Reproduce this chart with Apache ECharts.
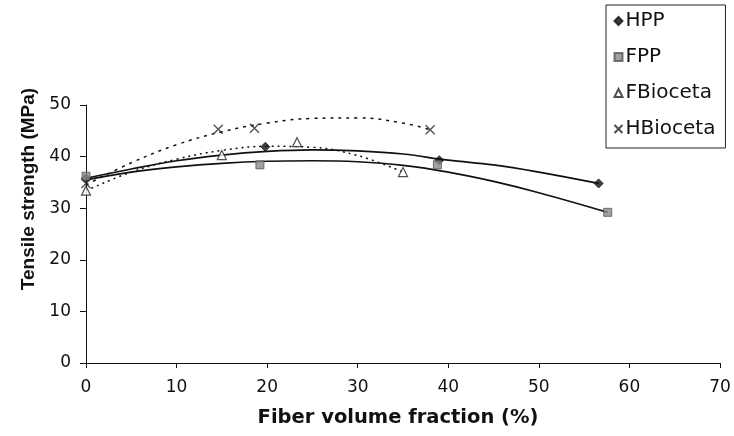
<!DOCTYPE html>
<html>
<head>
<meta charset="utf-8">
<script src="https://cdn.jsdelivr.net/npm/echarts@6/dist/echarts.min.js"></script>
<style>
html,body{margin:0;padding:0;background:#fff;}
#chart{width:734px;height:436px;}
</style>
</head>
<body>
<div id="chart"></div>
<script>
// ---- data ----
var seriesNames = ['HPP', 'FPP', 'FBioceta', 'HBioceta'];
var xTicks = [0, 10, 20, 30, 40, 50, 60, 70];
var yTicks = [0, 10, 20, 30, 40, 50];

// measured points [fiber volume fraction %, tensile strength MPa]
var hppPoints = [[0, 35.8], [19.8, 41.9], [39.0, 39.3], [56.6, 34.8]];
var fppPoints = [[0, 36.2], [19.2, 38.4], [38.8, 38.4], [57.6, 29.2]];
var fbioPoints = [[0, 33.4], [15.0, 40.3], [23.3, 42.8], [35.0, 37.0]];
var hbioPoints = [[0, 34.8], [14.6, 45.3], [18.6, 45.5], [38.0, 45.2]];

// trend curves
var hppTrend = [[0, 35.8], [5, 37.6], [10, 39.2], [15, 40.3], [20, 41.0], [25, 41.3], [30, 41.1], [35, 40.5], [40, 39.3], [45, 38.4], [50, 37.0], [56.6, 34.8]];
var fppTrend = [[0, 35.5], [5, 37.0], [10, 38.0], [15, 38.7], [20, 39.1], [25, 39.2], [30, 39.0], [35, 38.3], [40, 37.0], [45, 35.2], [50, 33.0], [57.6, 29.2]];
var fbioTrend = [[0, 33.4], [5, 37.0], [10, 39.5], [15, 41.2], [20, 42.0], [25, 41.8], [30, 40.2], [35, 37.0]];
var hbioTrend = [[0, 34.5], [5, 38.8], [10, 42.3], [15, 44.8], [20, 46.5], [25, 47.4], [30, 47.5], [35, 46.5], [38, 45.2]];

var FONT = "'Liberation Sans', Arial, sans-serif";
var WIDE = "'DejaVu Sans', 'Liberation Sans', sans-serif";
var chart = echarts.init(document.getElementById('chart'), null, {renderer: 'canvas'});

function trend(name, data, type, dash) {
  return {
    name: name, type: 'line', data: data, smooth: 0.4, showSymbol: false, silent: true,
    lineStyle: {color: '#111', width: type === 'solid' ? 1.7 : 1.5, type: type === 'solid' ? 'solid' : dash},
    z: 2
  };
}

var option = {
  animation: false,
  backgroundColor: '#fff',
  grid: {left: 86, right: 14, top: 105, bottom: 73, containLabel: false},
  legend: {
    data: seriesNames,
    orient: 'vertical',
    left: 606, top: 5,
    padding: [6, 10, 9, 6],
    itemGap: 16,
    itemWidth: 8, itemHeight: 8,
    borderColor: '#222', borderWidth: 1,
    backgroundColor: '#fff',
    textStyle: {fontFamily: WIDE, fontSize: 20, color: '#111', padding: [0, 0, 0, -2]}
  },
  xAxis: {
    type: 'value', min: 0, max: 70, interval: 10,
    name: 'Fiber volume fraction (%)', nameLocation: 'middle', nameGap: 45,
    nameTextStyle: {fontFamily: WIDE, fontSize: 19.5, fontWeight: 'bold', color: '#111', padding: [0, 10, 0, 0]},
    axisLine: {show: true, lineStyle: {color: '#111', width: 1}},
    axisTick: {show: true, inside: false, length: 5, lineStyle: {color: '#111'}},
    axisLabel: {fontFamily: WIDE, fontSize: 17, color: '#111', margin: 16,
      formatter: function (v) { return xTicks.indexOf(v) >= 0 ? String(v) : ''; }},
    splitLine: {show: false}
  },
  yAxis: {
    type: 'value', min: 0, max: 50, interval: 10,
    name: 'Tensile strength (MPa)', nameLocation: 'middle', nameGap: 42,
    nameTextStyle: {fontFamily: FONT, fontSize: 19, fontWeight: 'bold', color: '#111', padding: [0, 0, 0, 90]},
    axisLine: {show: true, lineStyle: {color: '#111', width: 1}},
    axisTick: {show: true, inside: false, length: 6, lineStyle: {color: '#111'}},
    axisLabel: {fontFamily: WIDE, fontSize: 17, color: '#111', margin: 15,
      formatter: function (v) { return yTicks.indexOf(v) >= 0 ? String(v) : ''; }},
    splitLine: {show: false}
  },
  series: [
    trend('HPP trend', hppTrend, 'solid'),
    trend('FPP trend', fppTrend, 'solid'),
    trend('FBioceta trend', fbioTrend, 'dotted', [2, 4]),
    trend('HBioceta trend', hbioTrend, 'dotted', [3, 5]),
    {name: 'HPP', type: 'scatter', data: hppPoints, symbol: 'diamond', symbolSize: 9,
      itemStyle: {color: '#111', borderColor: '#111', borderWidth: 1}, z: 5},
    {name: 'FPP', type: 'scatter', data: fppPoints, symbol: 'rect', symbolSize: 8,
      itemStyle: {color: '#8a8a8a', borderColor: '#555', borderWidth: 1}, z: 5},
    {name: 'FBioceta', type: 'scatter', data: fbioPoints, symbol: 'triangle', symbolSize: 9,
      itemStyle: {color: '#fff', borderColor: '#222', borderWidth: 1.2}, z: 5},
    {name: 'HBioceta', type: 'scatter', data: hbioPoints, symbol: 'path://M0,0L10,10M10,0L0,10', symbolSize: 9,
      itemStyle: {color: 'none', borderColor: '#222', borderWidth: 1.3}, z: 5}
  ]
};
chart.setOption(option);
</script>
</body>
</html>
